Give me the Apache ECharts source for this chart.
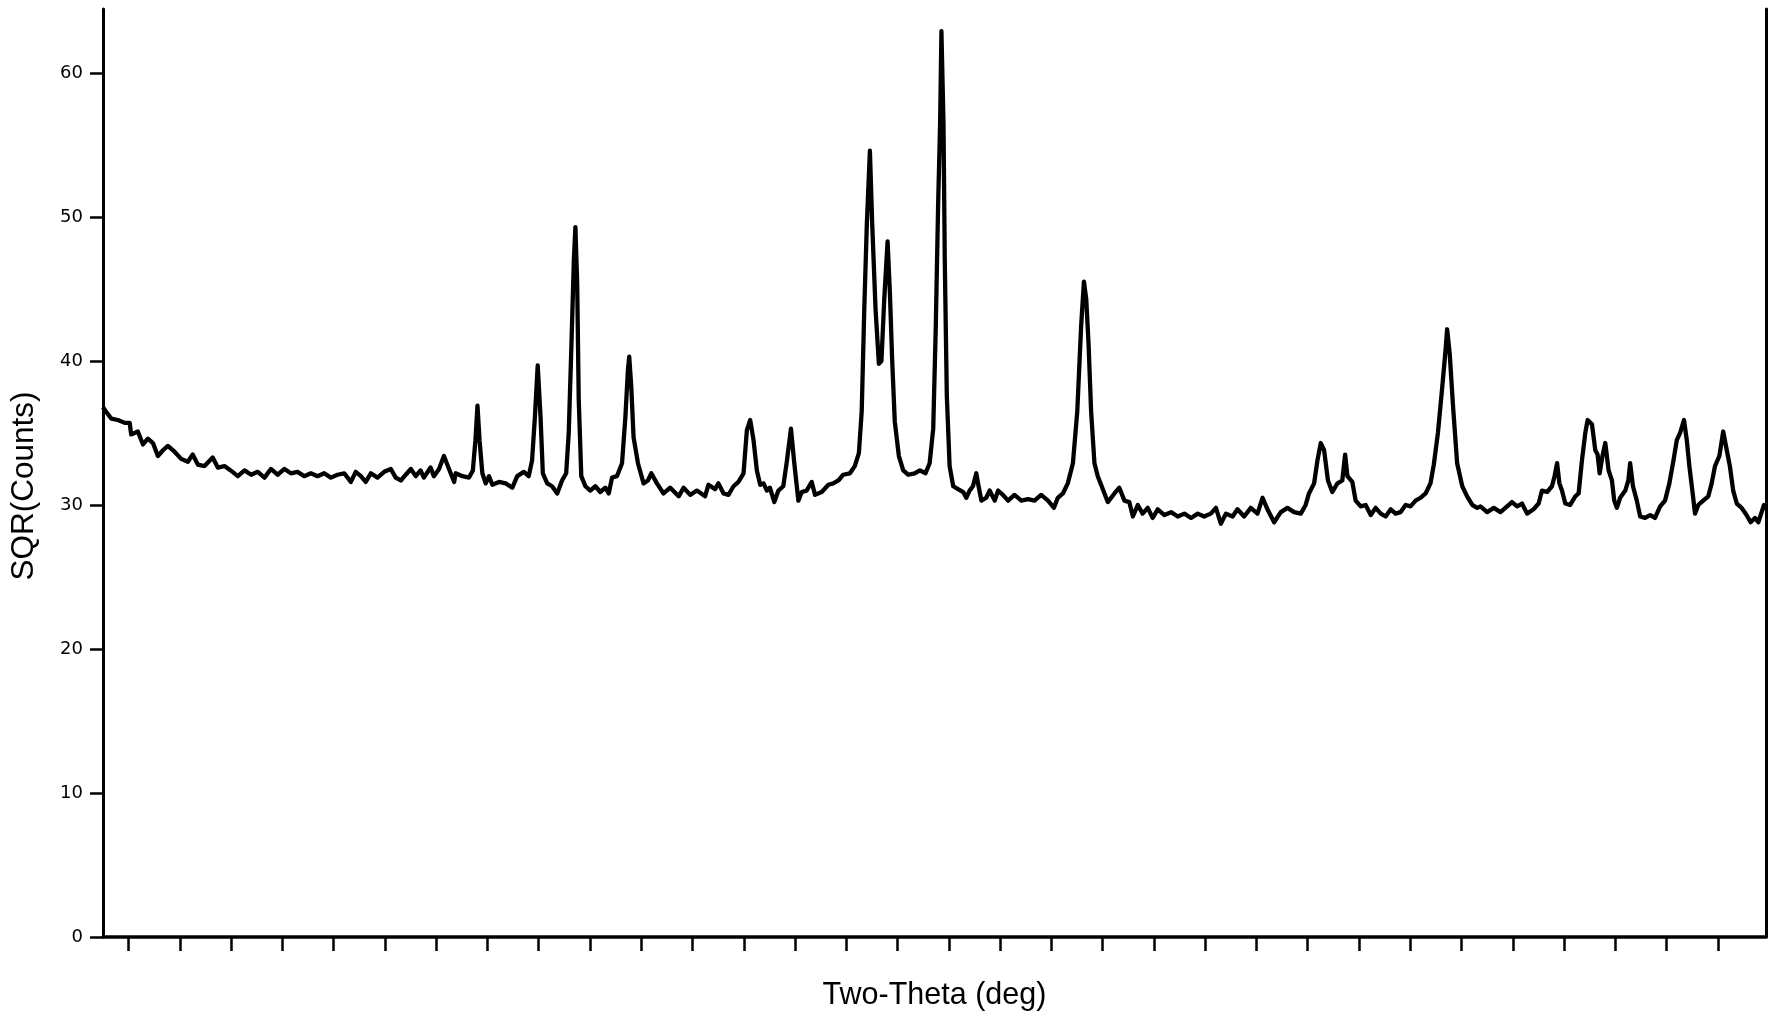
<!DOCTYPE html>
<html>
<head>
<meta charset="utf-8">
<script src="https://cdn.jsdelivr.net/npm/echarts@6/dist/echarts.min.js"></script>
<style>
html,body{margin:0;padding:0;background:#ffffff;}
#chart{width:1779px;height:1021px;}
</style>
</head>
<body>
<div id="chart"></div>
<script>
// 2-theta positions (deg)
const twoTheta = [
3.00,3.07,3.32,3.58,3.85,4.04,4.10,4.36,4.56,4.75,4.95,5.14,5.34,5.53,5.79,6.05,6.31,6.50,6.70,6.96,
7.28,7.48,7.74,7.98,8.26,8.52,8.78,9.04,9.30,9.55,9.81,10.08,10.33,10.59,10.85,11.11,11.37,11.63,11.89,12.15,
12.41,12.67,12.86,13.06,13.25,13.45,13.71,13.97,14.23,14.42,14.62,14.81,15.01,15.20,15.39,15.52,15.78,15.91,16.11,16.30,
16.50,16.70,16.76,17.02,17.28,17.43,17.53,17.61,17.69,17.80,17.93,18.06,18.19,18.45,18.71,18.97,19.16,19.42,19.61,19.74,
19.85,19.96,20.07,20.16,20.33,20.52,20.72,20.91,21.07,21.17,21.27,21.37,21.43,21.50,21.56,21.66,21.82,22.01,22.21,22.40,
22.60,22.73,22.86,23.05,23.25,23.38,23.48,23.53,23.61,23.70,23.87,24.09,24.26,24.39,24.61,24.87,25.13,25.46,25.65,25.91,
26.17,26.49,26.62,26.88,27.01,27.21,27.40,27.60,27.79,27.99,28.12,28.25,28.38,28.51,28.64,28.77,28.90,29.02,29.19,29.35,
29.54,29.67,29.84,29.97,30.13,30.26,30.45,30.65,30.78,31.04,31.30,31.49,31.69,31.88,32.14,32.33,32.49,32.60,32.70,32.80,
32.92,33.01,33.14,33.27,33.37,33.48,33.61,33.70,33.79,33.89,34.05,34.22,34.41,34.67,34.87,35.09,35.25,35.39,35.49,35.58,
35.66,35.71,35.79,35.84,35.92,36.03,36.17,36.36,36.56,36.68,36.81,36.94,37.07,37.16,37.27,37.46,37.59,37.79,37.92,38.11,
38.31,38.56,38.83,39.09,39.34,39.60,39.87,40.10,40.25,40.45,40.64,40.84,41.01,41.16,41.27,41.36,41.45,41.55,41.68,41.81,
41.94,42.20,42.46,42.65,42.85,43.04,43.18,43.37,43.56,43.76,43.95,44.15,44.41,44.67,44.93,45.19,45.45,45.71,45.96,46.22,
46.42,46.61,46.81,47.07,47.26,47.52,47.78,48.04,48.24,48.43,48.69,48.95,49.21,49.47,49.73,49.92,50.05,50.25,50.38,50.51,
50.64,50.79,50.96,51.16,51.35,51.46,51.55,51.74,51.87,52.07,52.26,52.46,52.65,52.85,53.04,53.24,53.43,53.62,53.82,54.01,
54.21,54.40,54.60,54.79,54.92,55.08,55.25,55.38,55.44,55.54,55.68,55.83,56.03,56.22,56.42,56.61,56.74,57.00,57.26,57.52,
57.78,57.97,58.17,58.36,58.56,58.81,59.01,59.14,59.34,59.53,59.63,59.73,59.82,59.92,60.05,60.24,60.44,60.57,60.70,60.83,
60.92,61.09,61.22,61.31,61.39,61.50,61.61,61.74,61.87,61.96,62.06,62.19,62.39,62.51,62.58,62.69,62.84,62.97,63.16,63.36,
63.55,63.75,63.94,64.11,64.27,64.40,64.53,64.68,64.79,64.89,65.02,65.11,65.24,65.43,65.63,65.76,65.89,66.06,66.21,66.35,
66.47,66.60,66.74,66.93,67.12,67.28,67.45,67.58,67.71,67.80,67.88
];
// square root of counts at each position
const sqrCounts = [
36.8,36.6,36.0,35.9,35.7,35.7,34.9,35.1,34.2,34.6,34.3,33.4,33.8,34.1,33.7,33.2,33.0,33.5,32.8,32.7,
33.3,32.6,32.7,32.4,32.0,32.4,32.1,32.3,31.9,32.5,32.1,32.5,32.2,32.3,32.0,32.2,32.0,32.2,31.9,32.1,
32.2,31.6,32.3,32.0,31.6,32.2,31.9,32.3,32.5,31.9,31.7,32.1,32.5,32.0,32.4,31.9,32.6,32.0,32.5,33.4,
32.5,31.6,32.2,32.0,31.9,32.4,34.5,36.9,34.5,32.2,31.5,32.0,31.4,31.6,31.5,31.2,32.0,32.3,32.0,33.1,
36.1,39.7,36.1,32.2,31.5,31.3,30.8,31.7,32.2,35.0,40.8,47.0,49.3,45.4,37.3,32.0,31.3,31.0,31.3,30.9,
31.2,30.8,31.9,32.0,32.9,36.1,39.4,40.3,38.2,34.7,32.9,31.5,31.7,32.2,31.5,30.8,31.2,30.6,31.2,30.7,
31.0,30.6,31.4,31.1,31.5,30.8,30.7,31.3,31.6,32.2,35.2,35.9,34.5,32.4,31.4,31.5,31.0,31.2,30.2,31.0,
31.3,32.9,35.3,32.9,30.3,30.9,31.0,31.6,30.7,30.9,31.4,31.5,31.7,32.1,32.2,32.7,33.6,36.5,43.6,49.5,
54.6,49.5,43.6,39.8,40.0,44.3,48.3,44.7,40.0,35.8,33.4,32.4,32.1,32.2,32.4,32.2,32.9,35.3,42.4,50.7,
56.6,62.9,56.6,47.1,37.6,32.7,31.3,31.1,30.9,30.5,31.0,31.3,32.2,31.3,30.3,30.5,31.0,30.3,31.0,30.7,
30.3,30.7,30.3,30.4,30.3,30.7,30.3,29.8,30.5,30.8,31.5,32.9,36.5,42.4,45.5,44.3,41.2,36.5,32.9,32.0,
31.4,30.2,30.8,31.2,30.3,30.2,29.2,30.0,29.4,29.8,29.1,29.7,29.3,29.5,29.2,29.4,29.1,29.4,29.2,29.4,
29.8,28.7,29.4,29.2,29.7,29.2,29.8,29.4,30.5,29.7,28.8,29.5,29.8,29.5,29.4,30.0,30.8,31.5,33.1,34.3,
33.8,31.7,30.9,31.5,31.7,33.5,32.0,31.6,30.3,29.9,30.0,29.3,29.8,29.4,29.2,29.7,29.4,29.5,30.0,29.9,
30.3,30.5,30.8,31.5,32.8,35.0,38.2,40.8,42.2,40.5,36.6,32.9,31.3,30.6,30.0,29.8,29.9,29.5,29.8,29.5,
29.9,30.2,29.9,30.1,29.4,29.7,30.1,31.0,30.9,31.3,32.0,32.9,31.5,31.0,30.1,30.0,30.6,30.8,33.1,35.0,
35.9,35.6,33.8,33.5,32.2,33.4,34.3,32.4,31.7,30.3,29.8,30.5,31.0,31.7,32.9,31.3,30.3,29.2,29.1,29.3,
29.1,29.9,30.3,31.5,33.1,34.5,35.0,35.9,34.5,32.7,30.8,29.4,30.0,30.3,30.6,31.5,32.7,33.4,35.1,33.8,
32.7,31.0,30.1,29.8,29.3,28.8,29.1,28.8,29.5,30.0,29.7
];
const yTickValues = [0, 10, 20, 30, 40, 50, 60];
const xTickValues = [4,6,8,10,12,14,16,18,20,22,24,26,28,30,32,34,36,38,40,42,44,46,48,50,52,54,56,58,60,62,64,66];
const xTitle = 'Two-Theta (deg)';
const yTitle = 'SQR(Counts)';
const xRange = [3, 67.88];
const yRange = [0, 64.44];

const chart = echarts.init(document.getElementById('chart'), null, {renderer: 'canvas'});
const points = twoTheta.map((x, i) => [x, sqrCounts[i]]);
const titleFont = '"Liberation Sans", Arial, sans-serif';
const tickFont = '"DejaVu Sans", "Liberation Sans", sans-serif';

chart.setOption({
  animation: false,
  backgroundColor: '#ffffff',
  grid: {left: 100, right: 13, top: 9, bottom: 84, containLabel: false},
  xAxis: {
    type: 'value',
    min: xRange[0],
    max: xRange[1],
    name: xTitle,
    nameLocation: 'middle',
    nameGap: 43,
    nameTextStyle: {fontFamily: titleFont, fontSize: 30.5, color: '#000'},
    axisLine: {show: true, onZero: false, lineStyle: {color: '#000', width: 3.5}},
    axisTick: {show: true, inside: false, customValues: xTickValues, length: 14, lineStyle: {color: '#000', width: 2.5}},
    axisLabel: {show: false},
    splitLine: {show: false}
  },
  yAxis: [{
    type: 'value',
    min: yRange[0],
    max: yRange[1],
    name: yTitle,
    nameLocation: 'middle',
    nameRotate: 90,
    nameGap: 63,
    nameTextStyle: {fontFamily: titleFont, fontSize: 31.5, color: '#000', padding: [0, 26, 0, 0]},
    axisLine: {show: true, onZero: false, lineStyle: {color: '#000', width: 3}},
    axisTick: {show: true, inside: false, customValues: yTickValues, length: 13, lineStyle: {color: '#000', width: 2.5}},
    axisLabel: {show: true, customValues: yTickValues, margin: 20, fontFamily: tickFont, fontSize: 18, color: '#000'},
    splitLine: {show: false}
  }, {
    type: 'value',
    position: 'right',
    min: yRange[0],
    max: yRange[1],
    axisLine: {show: true, onZero: false, lineStyle: {color: '#000', width: 3}},
    axisTick: {show: false},
    axisLabel: {show: false},
    splitLine: {show: false}
  }],
  series: [{
    type: 'line',
    data: points,
    showSymbol: false,
    symbol: 'none',
    smooth: false,
    clip: true,
    lineStyle: {color: '#000', width: 4.3, join: 'round'}
  }]
});
</script>
</body>
</html>
